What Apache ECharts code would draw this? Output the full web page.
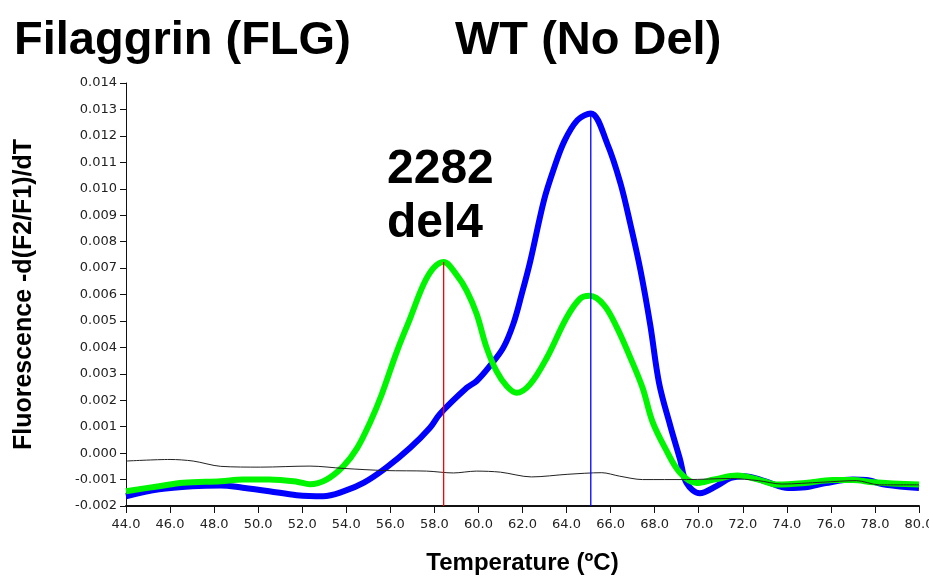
<!DOCTYPE html>
<html>
<head>
<meta charset="utf-8">
<script src="https://cdn.jsdelivr.net/npm/echarts@6/dist/echarts.min.js"></script>
<style>
html,body{margin:0;padding:0;background:#fff;}
#chart{width:929px;height:578px;}
</style>
</head>
<body>
<div id="chart"></div>
<script>
// ---- data (temperature in °C, fluorescence -d(F2/F1)/dT) ----
var wtTemp = [44.0,45.5,47.0,48.3,49.3,50.5,51.75,52.95,53.9,54.8,55.8,56.9,57.8,58.25,59.47,59.92,60.52,61.13,61.58,61.96,62.35,62.97,63.4,63.9,64.5,65.1,65.85,66.45,66.9,67.36,67.8,68.2,68.7,69.15,69.45,70.05,70.8,71.45,72.07,73.0,74.07,74.84,75.77,77.0,77.6,78.5,80.0];
var wtValues = [-0.00163,-0.00137,-0.00125,-0.00122,-0.00131,-0.00144,-0.00159,-0.00163,-0.00144,-0.00112,-0.00056,0.00020,0.00096,0.00148,0.00247,0.00273,0.00330,0.00399,0.00488,0.00600,0.00725,0.00955,0.01070,0.01180,0.01260,0.01285,0.01170,0.01020,0.00865,0.00690,0.00485,0.00265,0.00106,-0.00023,-0.00113,-0.00152,-0.00125,-0.00094,-0.00087,-0.00106,-0.00132,-0.00129,-0.00113,-0.00100,-0.00102,-0.00120,-0.00132];

var delTemp = [44.0,45.5,46.6,48.3,49.3,50.5,51.75,52.35,53.1,53.87,54.5,55.1,55.6,56.3,56.9,57.5,57.96,58.42,59.0,59.47,59.92,60.37,60.82,61.28,61.73,62.34,63.1,64.0,64.6,65.05,65.7,66.3,66.9,67.45,67.9,68.5,69.15,69.9,70.7,71.75,72.7,73.6,74.84,76.07,77.0,77.93,80.0];
var delValues = [-0.00144,-0.00125,-0.00112,-0.00106,-0.00100,-0.00100,-0.00108,-0.00118,-0.00100,-0.00049,0.00020,0.00120,0.00220,0.00385,0.00510,0.00637,0.00700,0.00723,0.00675,0.00614,0.00526,0.00399,0.00310,0.00254,0.00228,0.00260,0.00360,0.00512,0.00583,0.00595,0.00560,0.00473,0.00360,0.00247,0.00119,0.00015,-0.00074,-0.00113,-0.00100,-0.00085,-0.00100,-0.00119,-0.00113,-0.00102,-0.00102,-0.00110,-0.00119];

var ntcTemp = [44.0,46.0,47.05,48.3,50.1,52.35,53.9,55.8,57.65,58.86,59.9,61.0,62.4,64.06,65.6,66.4,67.45,69.45,71.45,72.7,73.76,75.6,77.15,78.2,80.0];
var ntcValues = [-0.00030,-0.00024,-0.00030,-0.00050,-0.00053,-0.00049,-0.00058,-0.00066,-0.00068,-0.00075,-0.00068,-0.00072,-0.00090,-0.00080,-0.00074,-0.00087,-0.00100,-0.00100,-0.00096,-0.00104,-0.00117,-0.00110,-0.00104,-0.00120,-0.00120];

// melting peak markers: [temperature, peak height]
var delPeak = [58.42, 0.00723];
var wtPeak = [65.1, 0.01285];

var xTicks = {min: 44, max: 80, interval: 2};
var yTicks = {min: -0.002, max: 0.014, interval: 0.001};

var titleLeft = 'Filaggrin (FLG)';
var titleRight = 'WT (No Del)';
var peakLabel = ['2282', 'del4'];

function pairs(xs, ys) { return xs.map(function (x, i) { return [x, ys[i]]; }); }

var chart = echarts.init(document.getElementById('chart'), null, {renderer: 'canvas'});
var boldFont = "'Liberation Sans', Arial, sans-serif";
var tickFont = "'DejaVu Sans', Verdana, sans-serif";
chart.setOption({
  animation: false,
  backgroundColor: '#ffffff',
  grid: {left: 126, right: 10, top: 83, bottom: 72, containLabel: false, outerBoundsMode: 'none'},
  xAxis: {
    type: 'value', min: xTicks.min, max: xTicks.max, interval: xTicks.interval,
    name: 'Temperature (\u00baC)', nameLocation: 'middle', nameGap: 45,
    nameTextStyle: {fontFamily: boldFont, fontWeight: 'bold', fontSize: 24, color: '#000'},
    axisLine: {onZero: false, lineStyle: {color: '#111', width: 2}},
    axisTick: {show: true, length: 7, lineStyle: {color: '#111', width: 1}},
    axisLabel: {color: '#222', fontSize: 13, fontFamily: tickFont, margin: 12,
      formatter: function (v) { return v.toFixed(1); }},
    splitLine: {show: false}
  },
  yAxis: {
    type: 'value', min: yTicks.min, max: yTicks.max, interval: yTicks.interval,
    name: 'Fluorescence -d(F2/F1)/dT', nameLocation: 'middle', nameGap: 89, nameRotate: 90,
    nameTextStyle: {fontFamily: boldFont, fontWeight: 'bold', fontSize: 25, color: '#000'},
    axisLine: {show: true, onZero: false, lineStyle: {color: '#111', width: 1}},
    axisTick: {show: true, length: 6, lineStyle: {color: '#111', width: 1}},
    axisLabel: {color: '#222', fontSize: 13, fontFamily: tickFont, margin: 9,
      formatter: function (v) { return v.toFixed(3); }},
    splitLine: {show: false}
  },
  graphic: [
    {type: 'text', left: 14, top: 18, style: {text: titleLeft, font: "bold 47px 'Liberation Sans', Arial, sans-serif", fill: '#000'}},
    {type: 'text', left: 455, top: 18, style: {text: titleRight, font: "bold 47px 'Liberation Sans', Arial, sans-serif", fill: '#000'}},
    {type: 'text', left: 387, top: 146, style: {text: peakLabel[0], font: "bold 48px 'Liberation Sans', Arial, sans-serif", fill: '#000'}},
    {type: 'text', left: 387, top: 200, style: {text: peakLabel[1], font: "bold 48px 'Liberation Sans', Arial, sans-serif", fill: '#000'}}
  ],
  series: [
    {name: 'WT', type: 'line', data: pairs(wtTemp, wtValues), smooth: 0.35, showSymbol: false, z: 2,
      lineStyle: {color: '#0000ff', width: 6}},
    {name: '2282del4', type: 'line', data: pairs(delTemp, delValues), smooth: 0.35, showSymbol: false, z: 3,
      lineStyle: {color: '#00f500', width: 6}},
    {name: 'NTC', type: 'line', data: pairs(ntcTemp, ntcValues), smooth: 0.3, showSymbol: false, z: 4,
      lineStyle: {color: '#222222', width: 1}},
    {name: 'del4 Tm', type: 'line', data: [[delPeak[0], yTicks.min], [delPeak[0], delPeak[1]]], showSymbol: false, z: 5,
      lineStyle: {color: '#ff0000', width: 1.3}},
    {name: 'WT Tm', type: 'line', data: [[wtPeak[0], yTicks.min], [wtPeak[0], wtPeak[1]]], showSymbol: false, z: 5,
      lineStyle: {color: '#0000ff', width: 1.3}}
  ]
});
</script>
</body>
</html>
